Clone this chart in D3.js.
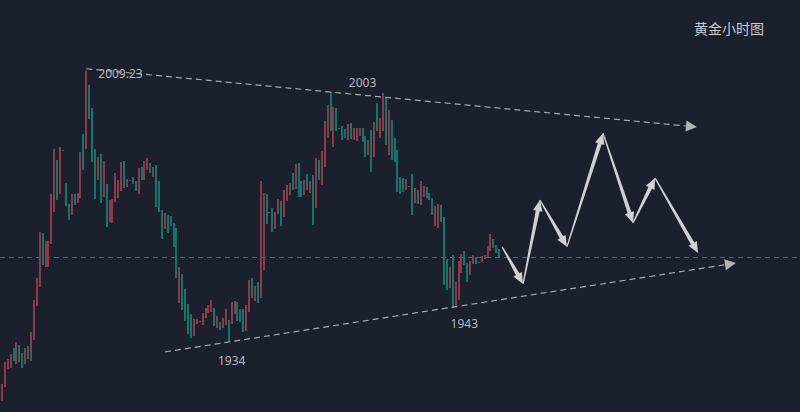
<!DOCTYPE html>
<html>
<head>
<meta charset="utf-8">
<script src="https://cdn.jsdelivr.net/npm/d3@7"></script>
<style>
html,body{margin:0;padding:0;background:#1b202d;}
svg{display:block;}
</style>
</head>
<body>
<svg id="chart" width="800" height="412"></svg>
<script>
// ---- data (hourly gold candles) ----
const opens = [1917.6,1921.4,1926.4,1926.7,1932.3,1927.8,1933.1,1930.9,1927.8,1932.8,
1928.7,1934.5,1944.0,1949.2,1964.2,1954.8,1954.8,1961.2,1970.1,1984.5,
1975.1,1987.3,1978.1,1972.3,1969.2,1975.1,1972.6,1974.0,1991.8,1987.6,
2005.4,1999.0,1987.6,1979.0,1986.2,1974.2,1977.9,1967.3,1967.0,1972.9,
1974.0,1975.9,1984.3,1977.0,1979.0,1979.8,1978.7,1975.1,1982.6,1979.0,
1981.8,1983.7,1979.8,1983.1,1978.7,1970.6,1965.4,1969.2,1969.0,1967.0,
1965.6,1944.8,1952.8,1948.7,1944.5,1941.7,1935.6,1939.0,1939.8,1938.7,
1940.6,1942.0,1942.3,1943.4,1937.8,1939.5,1937.8,1938.7,1940.1,1939.0,
1941.7,1945.1,1943.1,1943.1,1937.0,1942.3,1951.7,1945.3,1950.6,1946.2,
1954.0,1975.1,1970.2,1971.2,1965.4,1969.5,1973.1,1968.7,1973.1,1974.8,
1980.9,1976.5,1983.7,1978.7,1974.8,1980.6,1975.4,1980.4,1971.2,1984.5,
1977.6,1982.6,1990.6,2003.4,1988.1,1999.0,1993.3,1994.0,1993.2,1990.1,
1994.8,1990.1,1989.8,1991.2,1993.4,1991.2,1985.9,1992.9,1985.4,2000.4,
1990.6,1992.6,2002.0,1985.9,1995.7,1990.6,1987.3,1979.8,1979.5,1976.2,
1977.3,1980.6,1972.6,1976.2,1972.0,1974.2,1977.0,1975.4,1974.0,1966.2,
1965.6,1972.0,1968.7,1957.0,1949.0,1958.1,1944.2,1945.6,1953.1,1959.2,
1955.9,1952.6,1955.6,1957.6,1956.3,1956.2,1957.0,1957.6,1959.2,1962.6,
1960.9,1959.8];
const closes = [1922.3,1928.4,1929.2,1930.6,1928.7,1934.0,1928.4,1926.7,1932.3,1929.2,
1936.7,1945.6,1951.7,1964.5,1955.3,1962.0,1962.0,1975.1,1987.6,1973.4,
1988.1,1987.3,1971.7,1967.9,1975.1,1972.0,1975.4,1986.8,1981.8,2009.23,
1995.9,1984.0,1973.7,1985.4,1972.6,1984.3,1965.9,1973.4,1973.7,1980.9,
1979.0,1984.0,1976.7,1979.3,1979.0,1977.9,1975.9,1982.3,1979.0,1984.3,
1985.1,1980.9,1982.6,1971.5,1970.1,1962.6,1969.8,1964.2,1966.2,1960.4,
1951.7,1954.8,1942.8,1939.8,1936.2,1935.1,1940.3,1940.3,1939.8,1942.0,
1943.4,1944.2,1945.6,1938.4,1941.2,1937.3,1940.6,1943.1,1934.0,1945.1,
1945.3,1939.8,1939.5,1936.7,1944.2,1951.2,1946.2,1949.5,1944.8,1978.7,
1975.4,1966.7,1970.1,1964.5,1970.1,1973.7,1966.2,1976.2,1977.6,1978.1,
1976.2,1983.4,1974.2,1974.2,1979.0,1976.2,1978.7,1966.5,1985.1,1979.0,
1987.0,1995.4,1999.8,1992.6,1999.3,1992.6,1993.2,1990.1,1990.6,1994.5,
1990.4,1993.4,1993.4,1993.4,1989.5,1985.4,1990.1,1981.2,1995.1,1992.6,
1996.2,2003.2,1988.7,1998.4,1984.5,1984.0,1975.6,1975.1,1975.6,1979.3,
1977.3,1969.2,1976.7,1972.3,1978.7,1977.3,1974.0,1973.4,1969.2,1971.7,
1972.3,1967.3,1949.8,1948.4,1954.8,1943.5,1950.6,1956.5,1958.4,1955.3,
1950.6,1956.5,1958.1,1955.6,1956.2,1957.9,1958.1,1960.6,1964.0,1960.1,
1958.7,1957.6];

// trend lines: [candle index, price] (index beyond data = future bars)
const upperTrend = [[29, 2009.9], [239.0, 1993.7]];
const lowerTrend = [[56.1, 1931.2], [252.4, 1955.9]];
// projected zig-zag path (index, price)
const forecastIdx   = [172.0, 179.2, 185.0, 194.3, 206.7, 217.0, 224.6, 239.4];
const forecastPrice = [1960.4, 1950.1, 1973.4, 1960.4, 1992.0, 1967.0, 1979.5, 1958.7];
// price labels
const labelText  = ["2009.23", "2003", "1934", "1943"];
const labelIdx   = [29, 124, 79, 159];
const labelPrice = [2009.23, 2003.2, 1934.0, 1943.5];
const title = "黄金小时图";

// ---- drawing ----
const W = 800, H = 412;
const svg = d3.select("#chart");
svg.append("rect").attr("width", W).attr("height", H).attr("fill", "#1b202d");

const n = opens.length;
const x = d3.scaleLinear().domain([0, n - 1]).range([1.95, 1.95 + 2.908 * (n - 1)]);
const y = d3.scaleLinear().domain([1914.5, 2029]).range([H, 0]);

const UP = "#8e3a4d", DOWN = "#13766a";

// current price line (dashes drawn as 1px rects for crispness)
const last = closes[n - 1];
const lineY = Math.round(y(last));
svg.append("g").selectAll("rect").data(d3.range(0, W, 9)).join("rect")
  .attr("x", d => d).attr("y", lineY).attr("width", 5).attr("height", 1)
  .attr("fill", "#13876f");

// candles
const candles = d3.range(n).map(i => ({i, o: opens[i], c: closes[i]}));
svg.append("g").selectAll("rect").data(candles).join("rect")
  .attr("x", d => Math.round(x(d.i) - 1))
  .attr("width", 2)
  .attr("y", d => Math.round(y(Math.max(d.o, d.c))))
  .attr("height", d => Math.max(1, Math.round(y(Math.min(d.o, d.c))) - Math.round(y(Math.max(d.o, d.c)))))
  .attr("fill", d => d.c >= d.o ? UP : DOWN);

// dashed trend lines with arrowheads
function dashedArrow(pts) {
  const [a, b] = pts;
  const x1 = x(a[0]), y1 = y(a[1]), x2 = x(b[0]), y2 = y(b[1]);
  const ang = Math.atan2(y2 - y1, x2 - x1);
  const L = 11, hw = 5.5;
  const bx = x2 - L * Math.cos(ang), by = y2 - L * Math.sin(ang);
  svg.append("line")
    .attr("x1", x1).attr("y1", y1).attr("x2", bx).attr("y2", by)
    .attr("stroke", "#a7aab0").attr("stroke-width", 1.2)
    .attr("stroke-dasharray", "6,4");
  const px = -Math.sin(ang), py = Math.cos(ang);
  svg.append("path")
    .attr("d", `M${x2},${y2}L${bx + px * hw},${by + py * hw}L${bx - px * hw},${by - py * hw}Z`)
    .attr("fill", "#b2b4b8");
}
dashedArrow(upperTrend);
dashedArrow(lowerTrend);

// forecast arrows (tapered)
function taperArrow(x1, y1, x2, y2) {
  const ang = Math.atan2(y2 - y1, x2 - x1);
  const len = Math.hypot(x2 - x1, y2 - y1);
  const L = Math.min(11, len * 0.3), hw = 4.8, w0 = 0.6, w1 = 2.0;
  const ux = Math.cos(ang), uy = Math.sin(ang), px = -uy, py = ux;
  const bx = x2 - L * ux, by = y2 - L * uy;
  const pts = [
    [x1 + px * w0, y1 + py * w0],
    [bx + px * w1, by + py * w1],
    [bx + px * hw, by + py * hw],
    [x2, y2],
    [bx - px * hw, by - py * hw],
    [bx - px * w1, by - py * w1],
    [x1 - px * w0, y1 - py * w0]
  ];
  svg.append("path").attr("d", "M" + pts.map(p => p.join(",")).join("L") + "Z")
    .attr("fill", "#cfd0d3");
}
for (let k = 0; k < forecastIdx.length - 1; k++) {
  taperArrow(x(forecastIdx[k]), y(forecastPrice[k]), x(forecastIdx[k + 1]), y(forecastPrice[k + 1]));
}

// price labels
const lblOffsets = [[12, 7, "start"], [0, -6, "middle"], [0, 23, "middle"], [0, 20, "middle"]];
labelText.forEach((t, k) => {
  svg.append("text")
    .attr("x", x(labelIdx[k]) + lblOffsets[k][0])
    .attr("y", y(labelPrice[k]) + lblOffsets[k][1])
    .attr("text-anchor", lblOffsets[k][2])
    .attr("font-family", "'Noto Sans', 'DejaVu Sans', sans-serif")
    .attr("font-size", 12)
    .attr("fill", "#b4b7bc")
    .text(t);
});

// title
svg.append("text")
  .attr("x", 694).attr("y", 34)
  .attr("font-family", "'Noto Sans CJK SC', sans-serif")
  .attr("font-size", 14)
  .attr("fill", "#c9cbcf")
  .text(title);
</script>
</body>
</html>
